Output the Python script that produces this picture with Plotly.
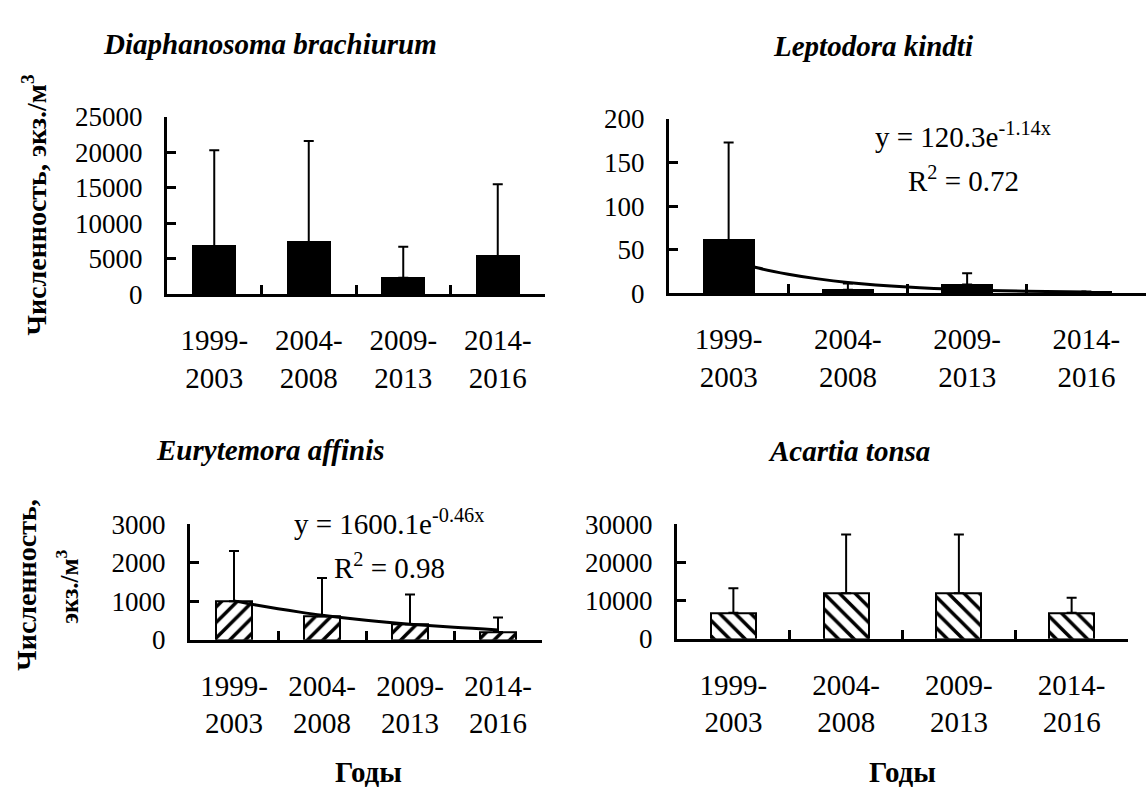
import plotly.graph_objects as go

# ---------------- data ----------------
periods = ["1999-<br>2003", "2004-<br>2008", "2009-<br>2013", "2014-<br>2016"]
period_pos = [1, 2, 3, 4]

diaph_mean = [6800, 7300, 2300, 5400]
diaph_upper = [20300, 21600, 6700, 15500]

lepto_mean = [61, 4, 10, 1]
lepto_upper = [173, 11, 23, 2]

eury_mean = [1000, 600, 400, 200]
eury_upper = [2300, 1600, 1170, 575]

acar_mean = [6800, 11900, 11900, 6800]
acar_upper = [13200, 27300, 27300, 10700]

# exponential trend lines
trend_x = [1, 1.25, 1.5, 1.75, 2, 2.5, 3, 3.5, 4]
lepto_trend = [38.4, 28.8, 21.8, 16.4, 12.3, 7.0, 3.9, 2.2, 1.3]
eury_trend = [1008, 900, 802, 715, 637, 506, 402, 320, 254]

titles = ["Diaphanosoma brachiurum", "Leptodora kindti", "Eurytemora affinis", "Acartia tonsa"]
lepto_eq = "y = 120.3e<sup>-1.14x</sup>"
lepto_r2 = "R<sup>2</sup> = 0.72"
eury_eq = "y = 1600.1e<sup>-0.46x</sup>"
eury_r2 = "R<sup>2</sup> = 0.98"
ylab = "Численность, экз./м<sup>3</sup>"
ylab_l1 = "Численность,"
ylab_l2 = "экз./м<sup>3</sup>"
xlab = "Годы"

SERIF = "Liberation Serif, Times New Roman, serif"
W, H = 1146, 800

fig = go.Figure()


def add_bars(mean, upper, n, fill, pattern=None, width=0.44):
    err = [u - m for u, m in zip(upper, mean)]
    marker = dict(color=fill, line=dict(color="black", width=2))
    if pattern:
        marker["pattern"] = dict(shape=pattern, fgcolor="black", bgcolor="white",
                                 size=11, solidity=0.32, fillmode="replace")
    sfx = "" if n == 1 else str(n)
    fig.add_trace(go.Bar(
        x=period_pos, y=mean, width=width, marker=marker,
        error_y=dict(type="data", symmetric=False, array=err, arrayminus=[0] * len(err),
                     color="black", thickness=2, width=5),
        xaxis="x" + sfx, yaxis="y" + sfx, showlegend=False, hoverinfo="skip"))
    # invisible companion trace so the overlay label axis is drawn
    fig.add_trace(go.Scatter(
        x=period_pos, y=mean, mode="markers", marker=dict(opacity=0, size=1),
        xaxis="x" + str(n + 4), yaxis="y" + sfx, showlegend=False, hoverinfo="skip"))


add_bars(diaph_mean, diaph_upper, 1, "black", width=0.44)
add_bars(lepto_mean, lepto_upper, 2, "black", width=0.42)
add_bars(eury_mean, eury_upper, 3, "white", pattern="/", width=0.40)
add_bars(acar_mean, acar_upper, 4, "white", pattern="\\", width=0.40)

fig.add_trace(go.Scatter(x=trend_x, y=lepto_trend, mode="lines",
                         line=dict(color="black", width=3, shape="spline"),
                         xaxis="x2", yaxis="y2", showlegend=False, hoverinfo="skip"))
fig.add_trace(go.Scatter(x=trend_x, y=eury_trend, mode="lines",
                         line=dict(color="black", width=3, shape="spline"),
                         xaxis="x3", yaxis="y3", showlegend=False, hoverinfo="skip"))


def xax(domain, anchor):
    # category boundaries carry the tick marks (Excel style)
    return dict(domain=domain, anchor=anchor, range=[0.5, 4.5],
                tickmode="linear", tick0=0.5, dtick=1,
                ticks="inside", ticklen=9, tickwidth=3, tickcolor="black",
                showticklabels=False,
                showline=True, linecolor="black", linewidth=3,
                showgrid=False, zeroline=False)


def xlab_ax(over, anchor):
    # overlay axis carrying the period labels at category centres
    return dict(overlaying=over, anchor=anchor, range=[0.5, 4.5], side="bottom",
                tickmode="array", tickvals=period_pos, ticktext=periods, ticks="",
                ticklabelstandoff=26,
                tickfont=dict(family=SERIF, size=29, color="black"),
                showline=False, showgrid=False, zeroline=False)


def yax(domain, anchor, top, dtick):
    return dict(domain=domain, anchor=anchor, range=[0, top], dtick=dtick, tickformat="d",
                ticks="inside", ticklen=9, tickwidth=3, tickcolor="black",
                ticklabelstandoff=16,
                tickfont=dict(family=SERIF, size=27, color="black"),
                showline=True, linecolor="black", linewidth=3,
                showgrid=False, zeroline=False)


def px(x):
    return x / W


def py(y):
    return 1 - y / H


fig.update_layout(
    width=W, height=H, margin=dict(l=0, r=0, t=0, b=0),
    paper_bgcolor="white", plot_bgcolor="white", bargap=0, showlegend=False,
    xaxis=xax([px(167), px(545)], "y"),
    yaxis=yax([py(290), py(106)], "x", 25000, 5000),
    xaxis2=xax([px(669), 1.0], "y2"),
    yaxis2=yax([py(289), py(108)], "x2", 200, 50),
    xaxis3=xax([px(190), px(542)], "y3"),
    yaxis3=yax([py(649), py(529)], "x3", 3000, 1000),
    xaxis4=xax([px(677), px(1128)], "y4"),
    yaxis4=yax([py(648), py(529)], "x4", 30000, 10000),
    xaxis5=xlab_ax("x", "y"),
    xaxis6=xlab_ax("x2", "y2"),
    xaxis7=xlab_ax("x3", "y3"),
    xaxis8=xlab_ax("x4", "y4"),
)

ann = []
title_pos = [(270, 30), (873, 32), (270, 452), (849, 453)]
for t, (x, y) in zip(titles, title_pos):
    ann.append(dict(text="<b><i>" + t + "</i></b>", x=px(x), y=py(y), xref="paper", yref="paper",
                    showarrow=False, xanchor="center", yanchor="middle",
                    font=dict(family=SERIF, size=29, color="black")))

for t, (x, y) in zip([lepto_eq, lepto_r2, eury_eq, eury_r2],
                     [(963, 125), (963, 170), (389, 527), (389, 572)]):
    ann.append(dict(text=t, x=px(x), y=py(y), xref="paper", yref="paper",
                    showarrow=False, xanchor="center", yanchor="middle",
                    font=dict(family=SERIF, size=29, color="black")))

ann.append(dict(text="<b>" + ylab + "</b>", x=px(35), y=py(198), xref="paper", yref="paper",
                showarrow=False, textangle=-90, xanchor="center", yanchor="middle",
                font=dict(family=SERIF, size=28, color="black")))
ann.append(dict(text="<b>" + ylab_l1 + "</b>", x=px(27), y=py(592), xref="paper", yref="paper",
                showarrow=False, textangle=-90, xanchor="center", yanchor="middle",
                font=dict(family=SERIF, size=28, color="black")))
ann.append(dict(text="<b>" + ylab_l2 + "</b>", x=px(67), y=py(594), xref="paper", yref="paper",
                showarrow=False, textangle=-90, xanchor="center", yanchor="middle",
                font=dict(family=SERIF, size=25, color="black")))

for x in [368, 902]:
    ann.append(dict(text="<b>" + xlab + "</b>", x=px(x), y=py(787), xref="paper", yref="paper",
                    showarrow=False, xanchor="center", yanchor="middle",
                    font=dict(family=SERIF, size=29, color="black")))

fig.update_layout(annotations=ann)

fig.write_html("out.html")
